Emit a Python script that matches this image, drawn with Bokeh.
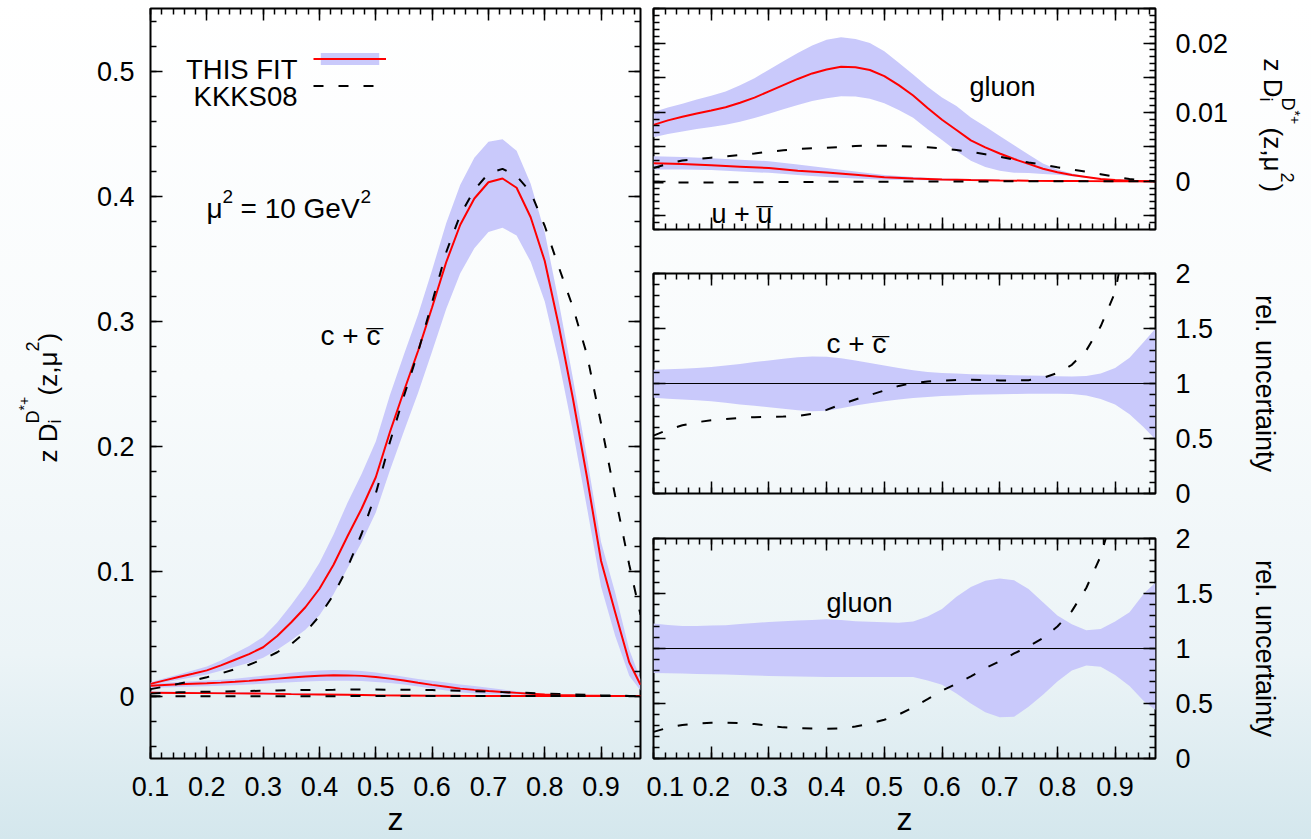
from math import pi

from bokeh.plotting import figure
from bokeh.layouts import row, column
from bokeh.models import (Range1d, LinearAxis, SingleIntervalTicker, CustomJSTickFormatter,
                          Label, Span, Legend, LegendItem)
from bokeh.embed import file_html
from bokeh.resources import INLINE

FONT = "Liberation Sans"
BAND = "#c9c9fb"
RED = "#ff0000"
DASH = "10 15"
TICK_SIZE = "27px"

# ---- momentum fraction grid -------------------------------------------------
z = [0.1, 0.125, 0.15, 0.175, 0.2, 0.225, 0.25, 0.275, 0.3, 0.325, 0.35, 0.375,
     0.4, 0.425, 0.45, 0.475, 0.5, 0.525, 0.55, 0.575, 0.6, 0.625, 0.65, 0.675,
     0.7, 0.725, 0.75, 0.775, 0.8, 0.825, 0.85, 0.875, 0.9, 0.925, 0.95, 0.97]

# charm: z D(z) for this fit and KKKS08
c_fit = [0.0097, 0.0125, 0.0152, 0.0178, 0.0205, 0.0245, 0.029, 0.0335, 0.039, 0.048, 0.059, 0.071,
         0.0858, 0.105, 0.128, 0.150, 0.175, 0.211, 0.244, 0.276, 0.311, 0.347, 0.377, 0.398,
         0.411, 0.414, 0.4066, 0.383, 0.348, 0.296, 0.238, 0.175, 0.108, 0.067, 0.027, 0.009]
c_kkks = [0.0055, 0.0075, 0.0098, 0.0122, 0.015, 0.018, 0.0215, 0.025, 0.0295, 0.035, 0.0415, 0.051,
          0.064, 0.081, 0.103, 0.130, 0.162, 0.203, 0.24, 0.275, 0.315, 0.355, 0.385, 0.405,
          0.418, 0.4217, 0.416, 0.403, 0.376, 0.343, 0.311, 0.273, 0.218, 0.160, 0.105, 0.065]
# charm: relative uncertainty band and KKKS08 / this fit
c_rel_hi = [1.125, 1.13, 1.135, 1.142, 1.149, 1.163, 1.178, 1.195, 1.21, 1.225, 1.238, 1.246,
            1.243, 1.23, 1.21, 1.186, 1.164, 1.14, 1.12, 1.105, 1.096, 1.09, 1.085, 1.082,
            1.079, 1.076, 1.073, 1.07, 1.066, 1.064, 1.068, 1.09, 1.14, 1.235, 1.38, 1.5]
c_rel_lo = [0.87, 0.862, 0.855, 0.847, 0.839, 0.825, 0.81, 0.797, 0.784, 0.77, 0.757, 0.747,
            0.752, 0.775, 0.80, 0.82, 0.839, 0.855, 0.868, 0.878, 0.886, 0.892, 0.897, 0.9,
            0.903, 0.905, 0.906, 0.907, 0.907, 0.905, 0.89, 0.86, 0.81, 0.72, 0.6, 0.49]
c_ratio = [0.526, 0.58, 0.62, 0.648, 0.665, 0.677, 0.688, 0.694, 0.697, 0.699, 0.705, 0.724,
           0.76, 0.81, 0.855, 0.895, 0.936, 0.978, 1.005, 1.018, 1.026, 1.031, 1.033, 1.031,
           1.028, 1.027, 1.03, 1.05, 1.095, 1.17, 1.3, 1.52, 1.83, 2.5]

# gluon: z D(z) for this fit and KKKS08
g_fit = [0.00815, 0.0088, 0.00932, 0.0098, 0.01024, 0.0107, 0.01135, 0.0121, 0.0130, 0.0139, 0.0148, 0.0156,
         0.01616, 0.01655, 0.0165, 0.0161, 0.0152, 0.0139, 0.0124, 0.0106, 0.0089, 0.0074, 0.0059, 0.0049,
         0.0040, 0.0032, 0.0025, 0.0018, 0.0013, 0.0009, 0.0006, 0.0003, 0.00015, 0.00005, 0.0, 0.0]
g_kkks = [0.0019, 0.0025, 0.0030, 0.0032, 0.0034, 0.0036, 0.0038, 0.0040, 0.00427, 0.00447, 0.00465, 0.00476,
          0.00485, 0.00495, 0.0051, 0.00513, 0.00514, 0.00508, 0.005, 0.0049, 0.00473, 0.0045, 0.00425, 0.0039,
          0.00354, 0.0031, 0.0027, 0.0024, 0.0020, 0.0017, 0.00135, 0.001, 0.00063, 0.0003, 0.0001, 0.0]
# gluon: relative uncertainty band and KKKS08 / this fit
g_rel_hi = [1.227, 1.213, 1.204, 1.205, 1.208, 1.212, 1.222, 1.232, 1.242, 1.248, 1.254, 1.26,
            1.266, 1.258, 1.248, 1.243, 1.238, 1.234, 1.245, 1.29, 1.36, 1.47, 1.56, 1.615,
            1.636, 1.62, 1.54, 1.42, 1.3, 1.22, 1.165, 1.178, 1.245, 1.33, 1.5, 1.6]
g_rel_lo = [0.778, 0.775, 0.772, 0.769, 0.765, 0.763, 0.759, 0.755, 0.751, 0.748, 0.745, 0.743,
            0.742, 0.742, 0.742, 0.742, 0.742, 0.742, 0.74, 0.71, 0.67, 0.59, 0.5, 0.42,
            0.375, 0.38, 0.47, 0.58, 0.7, 0.8, 0.845, 0.835, 0.76, 0.66, 0.52, 0.44]
g_ratio = [0.242, 0.28, 0.305, 0.318, 0.326, 0.325, 0.321, 0.313, 0.298, 0.283, 0.276, 0.272,
           0.271, 0.274, 0.29, 0.318, 0.352, 0.4, 0.465, 0.54, 0.616, 0.68, 0.746, 0.82,
           0.885, 0.955, 1.02, 1.095, 1.2, 1.34, 1.55, 1.84, 2.3]

# light quark u + ubar
zu = [0.1, 0.15, 0.2, 0.25, 0.3, 0.35, 0.4, 0.45, 0.5, 0.55, 0.6, 0.65, 0.7, 0.75, 0.8, 0.85, 0.9, 0.95, 0.97]
u_fit = [0.0026, 0.0025, 0.0023, 0.0021, 0.0019, 0.0015, 0.00126, 0.00092, 0.00055, 0.00037,
         0.00024, 0.00016, 0.0001, 0.00006, 0.00003, 0.00001, 0.0, 0.0, 0.0]
u_hi = [0.0036, 0.0035, 0.0033, 0.0031, 0.0029, 0.0024, 0.0019, 0.0014, 0.0009, 0.0006,
        0.0004, 0.0003, 0.0002, 0.0001, 0.00005, 0.00002, 0.0, 0.0, 0.0]
u_lo = [0.0017, 0.0017, 0.0016, 0.0014, 0.0012, 0.0009, 0.0006, 0.0004, 0.0002, 0.00015,
        0.0001, 0.00005, 0.00002, 0.00001, 0.0, 0.0, 0.0, 0.0, 0.0]
u_kkks = [-0.0002, -0.0002, -0.0002, -0.00015, -0.00015, -0.00012, -0.0001, -0.0001, -0.00008, -0.00006,
          -0.00005, -0.00004, -0.00003, -0.00002, -0.00001, 0.0, 0.0, 0.0, 0.0]

# absolute bands = central value x relative band
c_hi = [f * r for f, r in zip(c_fit, c_rel_hi)]
c_lo = [f * r for f, r in zip(c_fit, c_rel_lo)]
g_hi = [f * r for f, r in zip(g_fit, g_rel_hi)]
g_lo = [f * r for f, r in zip(g_fit, g_rel_lo)]

X0, X1 = 0.1, 0.97
PLAIN = "return String(Math.round(tick * 1000) / 1000);"
EVERY_HUNDREDTH = """
const k = Math.round(tick * 1000);
if (k % 10 !== 0) { return ""; }
return String(k / 1000);
"""


def transparent(p):
    p.grid.visible = False
    p.background_fill_color = None
    p.border_fill_color = None


def make_panel(width, height, yr, left, right, top, bottom):
    p = figure(width=width, height=height, x_range=Range1d(X0, X1), y_range=Range1d(*yr),
               output_backend="svg", toolbar_location=None,
               x_axis_location=None, y_axis_location=None,
               min_border_left=left, min_border_right=right,
               min_border_top=top, min_border_bottom=bottom)
    transparent(p)
    p.outline_line_color = "black"
    p.outline_line_width = 2
    return p


def make_strip(width, height):
    # blank area that only carries text (axis titles with sub/superscripts)
    p = figure(width=width, height=height, x_range=Range1d(0, 1), y_range=Range1d(0, 1),
               output_backend="svg", toolbar_location=None, title=None,
               x_axis_location=None, y_axis_location=None, min_border=0)
    transparent(p)
    p.outline_line_color = None
    return p


def add_axis(p, side, interval, labeled=False, code=PLAIN, standoff=0):
    ax = LinearAxis(ticker=SingleIntervalTicker(interval=interval, num_minor_ticks=5),
                    formatter=CustomJSTickFormatter(code=code if labeled else "return '';"),
                    axis_line_color=None,
                    major_tick_in=12, major_tick_out=0, minor_tick_in=6, minor_tick_out=0,
                    major_tick_line_color="black", minor_tick_line_color="black",
                    major_tick_line_width=1.5, minor_tick_line_width=1.5,
                    major_label_standoff=standoff,
                    major_label_text_font=FONT,
                    major_label_text_font_size=TICK_SIZE if labeled else "0px",
                    major_label_text_color="black")
    p.add_layout(ax, side)
    return ax


def z_title(ax):
    ax.axis_label = "z"
    ax.axis_label_text_font = FONT
    ax.axis_label_text_font_size = "32px"
    ax.axis_label_text_font_style = "normal"
    ax.axis_label_text_color = "black"
    ax.axis_label_standoff = 2


def note(p, text, dx, dy, size=27.5, angle=0.0, align="left"):
    # dx, dy: pixel offsets from the top-left corner of the frame (baseline anchor)
    p.add_layout(Label(x=p.x_range.start, y=p.y_range.end, x_offset=dx, y_offset=-dy, text=text,
                       text_font=FONT, text_font_size=f"{size}px", text_color="black",
                       text_align=align, text_baseline="alphabetic", angle=angle))


def band(p, x, lo, hi):
    return p.varea(x=x, y1=lo, y2=hi, fill_color=BAND, fill_alpha=1.0)


def fit_line(p, x, y):
    return p.line(x, y, line_color=RED, line_width=2)


def ref_line(p, x, y):
    return p.line(x, y, line_color="black", line_width=2, line_dash=DASH)


# ---- left title strip: z D_i^{D*+}(z, mu^2), reading upwards ------------------
lstrip = make_strip(70, 839)
up = pi / 2
note(lstrip, "z D", 47, 454, size=26, angle=up)
note(lstrip, "i", 54, 415, size=18, angle=up)
note(lstrip, "D", 32, 415, size=18, angle=up)
note(lstrip, "*+", 23, 402, size=14, angle=up)
note(lstrip, "(z,μ", 47, 387, size=26, angle=up)
note(lstrip, "2", 32, 343, size=18, angle=up)
note(lstrip, ")", 47, 333, size=26, angle=up)

# ---- left: all flavours at mu^2 = 10 GeV^2 ----------------------------------
left = make_panel(576, 839, (-0.05, 0.55), 80, 6, 8, 80)
z_title(add_axis(left, "below", 0.1, labeled=True, standoff=18))
add_axis(left, "above", 0.1)
add_axis(left, "left", 0.1, labeled=True, standoff=16)
add_axis(left, "right", 0.1)

cb = band(left, z, c_lo, c_hi)
band(left, z, g_lo, g_hi)
band(left, zu, u_lo, u_hi)
cl = fit_line(left, z, c_fit)
fit_line(left, z, g_fit)
fit_line(left, zu, u_fit)
cr = ref_line(left, z, c_kkks)
ref_line(left, z, g_kkks)
ref_line(left, zu, u_kkks)

legend = Legend(items=[LegendItem(label="", renderers=[cb, cl]),
                       LegendItem(label="", renderers=[cr])],
                location=(163, 665), padding=0, margin=0, spacing=12,
                glyph_width=73, glyph_height=15, label_standoff=0,
                label_width=0, label_height=0, label_text_font_size="1px",
                border_line_color=None, background_fill_color=None)
left.add_layout(legend)

note(left, "THIS FIT", 147, 61, align="right")
note(left, "KKKS08", 147, 88, align="right")
note(left, "μ", 56, 200, size=28)
note(left, "2", 72, 188, size=19)
note(left, "= 10 GeV", 90, 200, size=28)
note(left, "2", 210, 188, size=19)
note(left, "c + c", 170, 327, size=28)
note(left, "¯", 216, 331, size=30)

# ---- top right: gluon and u+ubar, zoomed -------------------------------------
tr = make_panel(590, 251, (-0.007, 0.025), 7, 81, 8, 22)
add_axis(tr, "below", 0.1)
add_axis(tr, "above", 0.1)
add_axis(tr, "left", 0.005)
add_axis(tr, "right", 0.005, labeled=True, code=EVERY_HUNDREDTH, standoff=20)

band(tr, z, g_lo, g_hi)
band(tr, zu, u_lo, u_hi)
fit_line(tr, z, g_fit)
fit_line(tr, zu, u_fit)
ref_line(tr, z, g_kkks)
ref_line(tr, zu, u_kkks)

note(tr, "gluon", 316, 78, size=27)
note(tr, "u + u", 58, 205, size=27)
note(tr, "¯", 103, 209, size=29)

# right-hand title strip, reading downwards
rstrip = make_strip(75, 251)
down = -pi / 2
note(rstrip, "z D", 36, 50, size=26, angle=down)
note(rstrip, "i", 29, 89, size=18, angle=down)
note(rstrip, "D", 51, 89, size=18, angle=down)
note(rstrip, "*+", 58, 102, size=14, angle=down)
note(rstrip, "(z,μ", 36, 119, size=26, angle=down)
note(rstrip, "2", 51, 164, size=18, angle=down)
note(rstrip, ")", 36, 175, size=26, angle=down)


def ratio_panel(height, top, bottom, rel_lo, rel_hi, ratio, labeled_x):
    p = make_panel(665, height, (0, 2), 7, 156, top, bottom)
    bottom_axis = add_axis(p, "below", 0.1, labeled=labeled_x, standoff=18)
    if labeled_x:
        z_title(bottom_axis)
    add_axis(p, "above", 0.1)
    add_axis(p, "left", 0.5)
    ax = add_axis(p, "right", 0.5, labeled=True, standoff=20)
    ax.axis_label = "rel. uncertainty"
    ax.axis_label_text_font = FONT
    ax.axis_label_text_font_size = "27px"
    ax.axis_label_text_font_style = "normal"
    ax.axis_label_text_color = "black"
    ax.axis_label_standoff = 34
    band(p, z, rel_lo, rel_hi)
    p.add_layout(Span(location=1, dimension="width", line_color="black", line_width=1))
    ref_line(p, z[:len(ratio)], ratio)
    return p


# ---- middle right: charm relative uncertainty ---------------------------------
mr = ratio_panel(264, 22, 22, c_rel_lo, c_rel_hi, c_ratio, False)
note(mr, "c + c", 173, 70, size=28)
note(mr, "¯", 219, 74, size=30)

# ---- bottom right: gluon relative uncertainty ---------------------------------
br = ratio_panel(324, 23, 81, g_rel_lo, g_rel_hi, g_ratio, True)
note(br, "gluon", 173, 64, size=27)

layout = row(lstrip, left, column(row(tr, rstrip), mr, br),
             styles={"background": "linear-gradient(to bottom, #ffffff 0%, #f8fbfc 45%, "
                                   "#ecf4f7 78%, #d4e7ed 100%)"})

open("out.html", "w").write(file_html(layout, INLINE))
